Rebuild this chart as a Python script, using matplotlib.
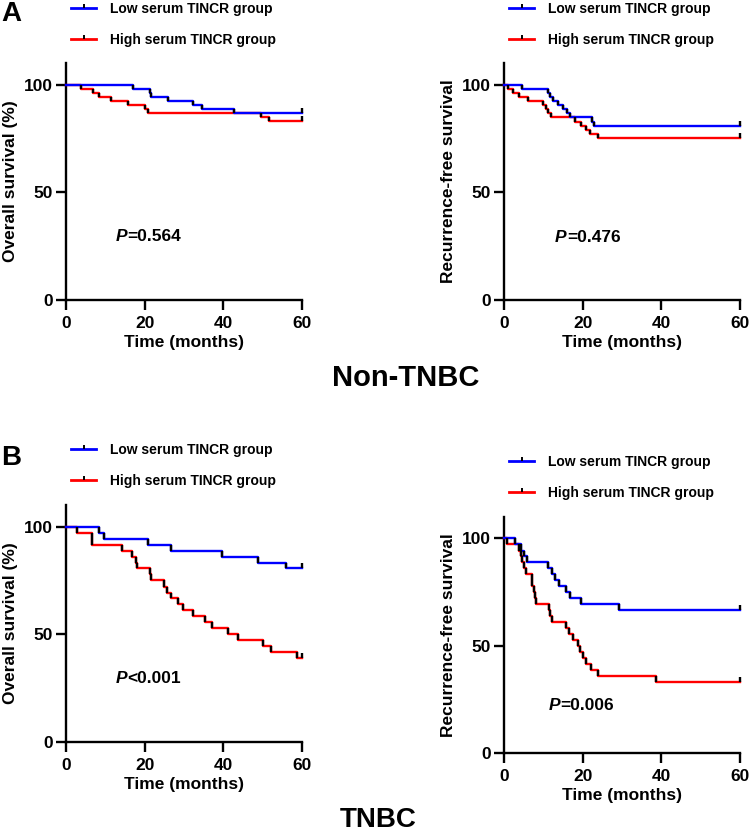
import matplotlib
matplotlib.use("Agg")
import matplotlib.pyplot as plt
from matplotlib.lines import Line2D
from matplotlib.path import Path

plt.rcParams["font.family"] = ["Liberation Sans", "DejaVu Sans"]
plt.rcParams["font.weight"] = "bold"
plt.rcParams["axes.labelweight"] = "bold"

# --- datos (tiempo de cada caida, nivel tras la caida) ---
# Non-TNBC, overall survival
os_a_low_t = [17.0, 21.4, 21.7, 26.0, 32.2, 34.5, 42.7]
os_a_low_s = [98.1, 96.3, 94.4, 92.5, 90.6, 88.8, 86.8]
os_a_high_t = [3.8, 6.9, 8.5, 11.4, 15.8, 20.1, 20.8, 49.6, 51.6]
os_a_high_s = [98.1, 96.3, 94.4, 92.5, 90.6, 88.8, 86.8, 85.0, 83.1]

# Non-TNBC, recurrence-free survival
rfs_a_low_t = [4.5, 11.3, 11.7, 12.5, 13.8, 14.9, 16.1, 16.9, 22.3, 22.9]
rfs_a_low_s = [98.1, 96.2, 94.3, 92.4, 90.5, 88.6, 86.7, 84.8, 82.9, 81.0]
rfs_a_high_t = [0.9, 2.4, 3.8, 6.2, 10.0, 10.7, 11.3, 11.9, 18.1, 19.5, 20.9, 21.8, 23.9]
rfs_a_high_s = [98.1, 96.2, 94.3, 92.4, 90.5, 88.6, 86.7, 84.8, 82.9, 81.0, 79.1, 77.2, 75.3]

# TNBC, overall survival
os_b_low_t = [8.5, 9.7, 20.9, 26.7, 39.6, 48.9, 55.9]
os_b_low_s = [97.2, 94.4, 91.7, 88.9, 86.1, 83.3, 80.6]
os_b_high_t = [2.9, 6.5, 6.7, 14.2, 16.7, 17.8, 18.1, 21.4, 21.6, 25.0, 25.6,
               26.7, 28.5, 29.7, 32.2, 35.3, 37.2, 41.1, 43.8, 50.2, 52.0, 58.7]
os_b_high_s = [97.2, 94.4, 91.7, 88.9, 86.1, 83.3, 80.6, 77.8, 75.0, 72.2, 69.4,
               66.7, 63.9, 61.1, 58.3, 55.6, 52.8, 50.0, 47.2, 44.4, 41.7, 38.9]

# TNBC, recurrence-free survival
rfs_b_low_t = [2.8, 4.2, 5.0, 5.8, 11.3, 12.1, 13.0, 14.1, 15.8, 16.8, 19.6, 29.2]
rfs_b_low_s = [97.2, 94.4, 91.7, 88.9, 86.1, 83.3, 80.6, 77.8, 75.0, 72.2, 69.4, 66.7]
rfs_b_high_t = [0.85, 3.9, 4.3, 4.6, 5.0, 5.5, 7.0, 7.2, 7.5, 7.8, 8.2, 11.4,
                11.6, 12.1, 15.7, 16.4, 17.5, 18.7, 19.2, 20.0, 20.8, 22.2, 23.9, 38.6]
rfs_b_high_s = [97.2, 94.4, 91.7, 88.9, 86.1, 83.3, 80.6, 77.8, 75.0, 72.2, 69.4, 66.7,
                63.9, 61.1, 58.3, 55.6, 52.8, 50.0, 47.2, 44.4, 41.7, 38.9, 36.1, 33.3]

GROUPS = ["Low serum TINCR group", "High serum TINCR group"]
C_LOW = "#0000FF"
C_HIGH = "#FF0000"
X_TICKS = [0, 20, 40, 60]
Y_TICKS = [0, 50, 100]

W, H = 750, 832
TICK = Path([(0, 0), (0, 1)], [Path.MOVETO, Path.LINETO])   # marca de censura (solo hacia arriba)


def fx(px):
    return px / W


def fy(py):
    return 1 - py / H


def km(ax, t, s, color):
    xs = [0] + t + [60]
    ys = [100] + s + [s[-1]]
    ax.step(xs, ys, where="post", color=color, lw=1.7, clip_on=False, zorder=3)
    ax.vlines(t, [100] + s[:-1], s, color="black", lw=1.7, zorder=4)
    ax.plot([60], [s[-1]], ls="none", marker=TICK, ms=7, mec="black", mew=1.7,
            clip_on=False, zorder=4)


def panel(fig, left, top, curves, ylabel, ptxt, ppos, leg_x, leg_y):
    bottom = top + 236.3
    ax = fig.add_axes([fx(left), fy(bottom), 236 / W, 236.3 / H])
    km(ax, curves[2], curves[3], C_HIGH)
    km(ax, curves[0], curves[1], C_LOW)
    ax.set_xlim(0, 60)
    ax.set_ylim(0, 110)
    ax.set_xticks(X_TICKS)
    ax.set_yticks(Y_TICKS)
    for side in ("top", "right"):
        ax.spines[side].set_visible(False)
    for side in ("left", "bottom"):
        ax.spines[side].set_linewidth(1.7)
    ax.tick_params(direction="out", length=7.5, width=1.7, labelsize=12.5)
    ax.tick_params(axis="x", pad=4)
    ax.tick_params(axis="y", pad=2)
    for lbl in ax.get_xticklabels() + ax.get_yticklabels():
        lbl.set_fontweight("bold")
    ax.set_xlabel("Time (months)", fontsize=12.5, fontweight="bold", labelpad=3)
    ax.set_ylabel(ylabel, fontsize=12.5, fontweight="bold", labelpad=4)

    t = ax.text(ppos[0], ppos[1], "P", fontsize=12.5, style="italic",
                fontweight="bold", va="center", ha="left")
    ax.annotate(ptxt, xy=(1, 0.5), xycoords=t, fontsize=12.5, fontweight="bold",
                va="center", ha="left")

    handles = [Line2D([], [], color=c, lw=2, marker=TICK, ms=6, mec="black", mew=1.4)
               for c in (C_LOW, C_HIGH)]
    ax.legend(handles, GROUPS, loc="upper left",
              bbox_to_anchor=(fx(leg_x), fy(leg_y)), bbox_transform=fig.transFigure,
              frameon=False, borderpad=0, borderaxespad=0, handlelength=1.8,
              handletextpad=1.0, labelspacing=1.2, prop={"size": 10, "weight": "bold"})
    return ax


fig = plt.figure(figsize=(W / 100, H / 100), dpi=100)

panel(fig, 66, 63.3, [os_a_low_t, os_a_low_s, os_a_high_t, os_a_high_s],
      "Overall survival (%)", "=0.564", (12.7, 29.6), 71, 2)
panel(fig, 504, 63.3, [rfs_a_low_t, rfs_a_low_s, rfs_a_high_t, rfs_a_high_s],
      "Recurrence-free survival", "=0.476", (13.0, 29.1), 509, 2)
panel(fig, 66, 505.3, [os_b_low_t, os_b_low_s, os_b_high_t, os_b_high_s],
      "Overall survival (%)", "<0.001", (12.7, 29.6), 71, 443)
panel(fig, 504, 517, [rfs_b_low_t, rfs_b_low_s, rfs_b_high_t, rfs_b_high_s],
      "Recurrence-free survival", "=0.006", (11.4, 22.1), 509, 455)

fig.text(fx(1), fy(1), "A", fontsize=20, fontweight="bold", va="top", ha="left")
fig.text(fx(1), fy(445), "B", fontsize=20, fontweight="bold", va="top", ha="left")
fig.text(fx(332), fy(364), "Non-TNBC", fontsize=21, fontweight="bold", va="top", ha="left")
fig.text(fx(340), fy(807), "TNBC", fontsize=20, fontweight="bold", va="top", ha="left")

fig.savefig("out.png", dpi=100, facecolor="white")
